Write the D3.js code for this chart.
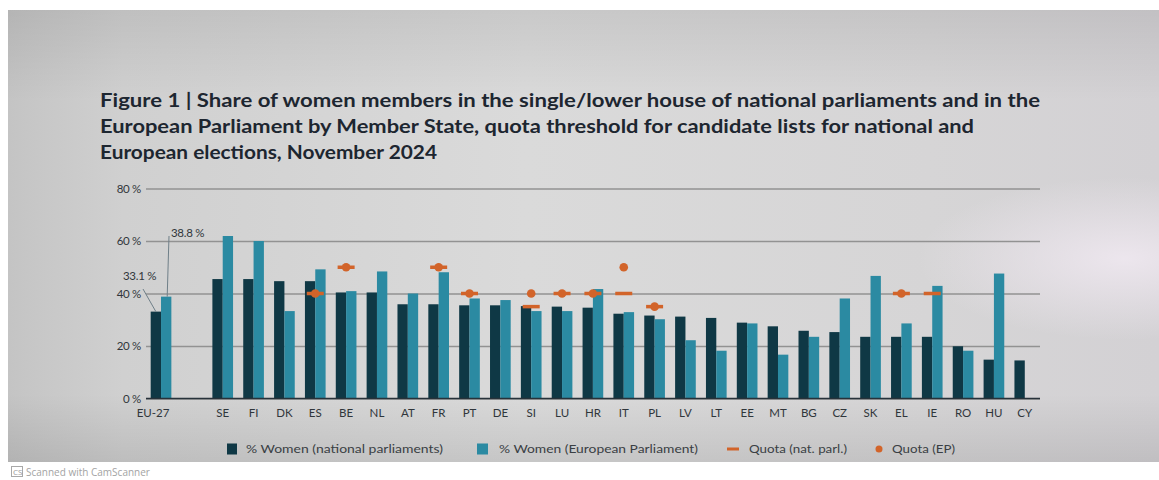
<!DOCTYPE html>
<html>
<head>
<meta charset="utf-8">
<script src="https://cdn.jsdelivr.net/npm/d3@7"></script>
<style>
  html, body { margin: 0; padding: 0; background: #ffffff; }
  svg { display: block; }
</style>
</head>
<body>
<svg id="chart" width="1159" height="480"></svg>
<script>
// ---------------- DATA ----------------
const categories = ["EU-27","SE","FI","DK","ES","BE","NL","AT","FR","PT","DE","SI","LU","HR","IT","PL","LV","LT","EE","MT","BG","CZ","SK","EL","IE","RO","HU","CY"];
const womenNational = [33.1,45.5,45.5,44.7,44.7,40.4,40.4,35.9,35.9,35.5,35.5,35.2,35.0,34.6,32.3,31.6,31.2,30.7,28.9,27.5,25.8,25.3,23.5,23.5,23.5,19.9,14.8,14.5];
const womenEP       = [38.8,61.9,60.0,33.3,49.2,40.9,48.4,40.0,48.1,38.1,37.5,33.3,33.3,41.7,32.9,30.2,22.2,18.2,28.6,16.7,23.5,38.1,46.7,28.6,42.9,18.2,47.6,0];
const quotaNational = [null,null,null,null,40,50,null,null,50,40,null,35,40,40,40,35,null,null,null,null,null,null,null,40,40,null,null,null];
const quotaEP       = [null,null,null,null,40,50,null,null,50,40,null,40,40,40,50,35,null,null,null,null,null,null,null,40,null,null,null,null];
const yTicks = [0,20,40,60,80];
const titleLines = [
  "Figure 1  |  Share of women members in the single/lower house of national parliaments and in the",
  "European Parliament by Member State, quota threshold for candidate lists for national and",
  "European elections, November 2024"
];
const legendLabels = ["% Women (national parliaments)","% Women (European Parliament)","Quota (nat. parl.)","Quota (EP)"];
const euLabels = ["33.1 %","38.8 %"];

// ---------------- STYLE ----------------
const C_NAT = "#0f3845";
const C_EP = "#2b8aa2";
const C_Q = "#d2642a";
const FONT = "Lato, 'Open Sans', sans-serif";
const C_LBL = "#30363b";

const svg = d3.select("#chart");
const defs = svg.append("defs");

// photo background
const lg = defs.append("linearGradient").attr("id","bg").attr("x1","0").attr("x2","1").attr("y1","0").attr("y2","0");
[["0%","#c4c4c4"],["10%","#d0d0d0"],["45%","#dadada"],["80%","#d6d5d6"],["100%","#d3d1d4"]]
  .forEach(([o,c]) => lg.append("stop").attr("offset",o).attr("stop-color",c));
const rg = defs.append("radialGradient").attr("id","glare").attr("cx","0.97").attr("cy","0.55").attr("r","0.18");
rg.append("stop").attr("offset","0%").attr("stop-color","#efe8f0").attr("stop-opacity",0.9);
rg.append("stop").attr("offset","100%").attr("stop-color","#efe8f0").attr("stop-opacity",0);
const vg = defs.append("linearGradient").attr("id","vshade").attr("x1","0").attr("x2","0").attr("y1","0").attr("y2","1");
[["0%",0.08],["20%",0],["85%",0],["100%",0.09]].forEach(([o,a]) =>
  vg.append("stop").attr("offset",o).attr("stop-color","#000").attr("stop-opacity",a));

svg.append("rect").attr("x",8).attr("y",10).attr("width",1151).attr("height",452).attr("fill","url(#bg)");
svg.append("rect").attr("x",8).attr("y",10).attr("width",1151).attr("height",452).attr("fill","url(#vshade)");
svg.append("rect").attr("x",8).attr("y",10).attr("width",1151).attr("height",452).attr("fill","url(#glare)");

// ---------------- TITLE ----------------
const titleWidths = [940, 874, 337];
const titleY = [107, 133, 159];
titleLines.forEach((t,i) => {
  svg.append("text")
    .attr("x",100).attr("y",titleY[i])
    .attr("font-family",FONT).attr("font-weight",700).attr("font-size",18.5)
    .attr("fill","#1d2630")
    .attr("textLength",titleWidths[i]).attr("lengthAdjust","spacingAndGlyphs")
    .text(t);
});

// ---------------- SCALES ----------------
const slots = ["EU-27","__gap__", ...categories.slice(1)];
const x = d3.scaleBand().domain(slots).range([145.6,1040.2]).paddingInner(0.33).paddingOuter(0.165);
const y = d3.scaleLinear().domain([0,80]).range([398.5,188.5]);
const bw = x.bandwidth()/2;

// grid + y labels
const yAxis = d3.axisLeft(y).tickValues(yTicks).tickSize(-(1040-146)).tickPadding(5).tickFormat(d => d + " %");
const gy = svg.append("g").attr("transform","translate(146,0)").call(yAxis);
gy.select(".domain").remove();
gy.selectAll(".tick line").attr("stroke","#929292").attr("stroke-width",1.4);
gy.selectAll(".tick text").attr("font-family",FONT).attr("font-size",11.5).attr("fill",C_LBL)
  .attr("letter-spacing","-0.3");

// bars
const data = categories.map((c,i) => ({c, nat: womenNational[i], ep: womenEP[i], qn: quotaNational[i], qe: quotaEP[i]}));
const g = svg.append("g");
g.selectAll("rect.nat").data(data).join("rect").attr("class","nat")
  .attr("x", d => x(d.c)).attr("width", bw)
  .attr("y", d => y(d.nat)).attr("height", d => y(0) - y(d.nat))
  .attr("fill", C_NAT);
g.selectAll("rect.ep").data(data.filter(d => d.ep > 0)).join("rect").attr("class","ep")
  .attr("x", d => x(d.c) + bw).attr("width", bw)
  .attr("y", d => y(d.ep)).attr("height", d => y(0) - y(d.ep))
  .attr("fill", C_EP);

// baseline / x axis
const xAxis = d3.axisBottom(x).tickSize(0).tickPadding(10).tickFormat(d => d === "__gap__" ? "" : d);
const gx = svg.append("g").attr("transform",`translate(0,${y(0)})`).call(xAxis);
gx.select(".domain").attr("stroke","#27323a").attr("stroke-width",1.6).attr("d","M146,0H1040");
gx.selectAll(".tick text").attr("font-family",FONT).attr("font-size",11.5).attr("fill",C_LBL);
gx.selectAll(".tick").filter(d => d === "EU-27").select("text").attr("dx",-8);

// quota markers
const cx = d => x(d.c) + x.bandwidth()/2;
g.selectAll("rect.qn").data(data.filter(d => d.qn != null)).join("rect").attr("class","qn")
  .attr("x", d => cx(d) - 8.5).attr("width",17)
  .attr("y", d => y(d.qn) - 1.75).attr("height",3.5)
  .attr("fill", C_Q);
g.selectAll("circle.qe").data(data.filter(d => d.qe != null)).join("circle").attr("class","qe")
  .attr("cx", cx).attr("cy", d => y(d.qe)).attr("r",4.3)
  .attr("fill", C_Q);

// EU-27 annotations
const eu = data[0];
const euNatX = x(eu.c) + bw/2, euEpX = x(eu.c) + bw*1.5;
svg.append("line").attr("x1",143).attr("y1",289).attr("x2",euNatX).attr("y2",y(eu.nat))
  .attr("stroke","#6f7f88").attr("stroke-width",1);
svg.append("line").attr("x1",169).attr("y1",236).attr("x2",euEpX+1).attr("y2",y(eu.ep))
  .attr("stroke","#6f7f88").attr("stroke-width",1);
svg.append("text").attr("x",123).attr("y",280).attr("font-family",FONT).attr("font-size",11.5)
  .attr("fill",C_LBL).attr("letter-spacing","-0.3").text(euLabels[0]);
svg.append("text").attr("x",171).attr("y",237).attr("font-family",FONT).attr("font-size",11.5)
  .attr("fill",C_LBL).attr("letter-spacing","-0.3").text(euLabels[1]);

// ---------------- LEGEND ----------------
const lgY = 449;
const leg = svg.append("g").attr("font-family",FONT).attr("font-size",11).attr("fill","#3a3f44");
leg.append("rect").attr("x",227).attr("y",lgY-5.5).attr("width",10).attr("height",11).attr("fill",C_NAT);
leg.append("text").attr("x",246).attr("y",lgY+4).attr("textLength",197).attr("lengthAdjust","spacingAndGlyphs").text(legendLabels[0]);
leg.append("rect").attr("x",477).attr("y",lgY-5.5).attr("width",11).attr("height",11).attr("fill",C_EP);
leg.append("text").attr("x",499).attr("y",lgY+4).attr("textLength",199).attr("lengthAdjust","spacingAndGlyphs").text(legendLabels[1]);
leg.append("rect").attr("x",727).attr("y",lgY-1.5).attr("width",12).attr("height",3).attr("fill",C_Q);
leg.append("text").attr("x",749).attr("y",lgY+4).attr("textLength",98).attr("lengthAdjust","spacingAndGlyphs").text(legendLabels[2]);
leg.append("circle").attr("cx",879).attr("cy",lgY).attr("r",3.5).attr("fill",C_Q);
leg.append("text").attr("x",892).attr("y",lgY+4).attr("textLength",63).attr("lengthAdjust","spacingAndGlyphs").text(legendLabels[3]);

// ---------------- SCANNER FOOTER ----------------
svg.append("rect").attr("x",11.5).attr("y",466.5).attr("width",11).attr("height",10).attr("fill","none")
  .attr("stroke","#a8a8a8").attr("stroke-width",1);
svg.append("text").attr("x",13).attr("y",475).attr("font-family","'Open Sans', sans-serif").attr("font-size",8)
  .attr("fill","#9a9a9a").text("CS");
svg.append("text").attr("x",26).attr("y",475.5).attr("font-family","'Open Sans', sans-serif").attr("font-size",10)
  .attr("fill","#a3a3a3").text("Scanned with CamScanner");
</script>
</body>
</html>
